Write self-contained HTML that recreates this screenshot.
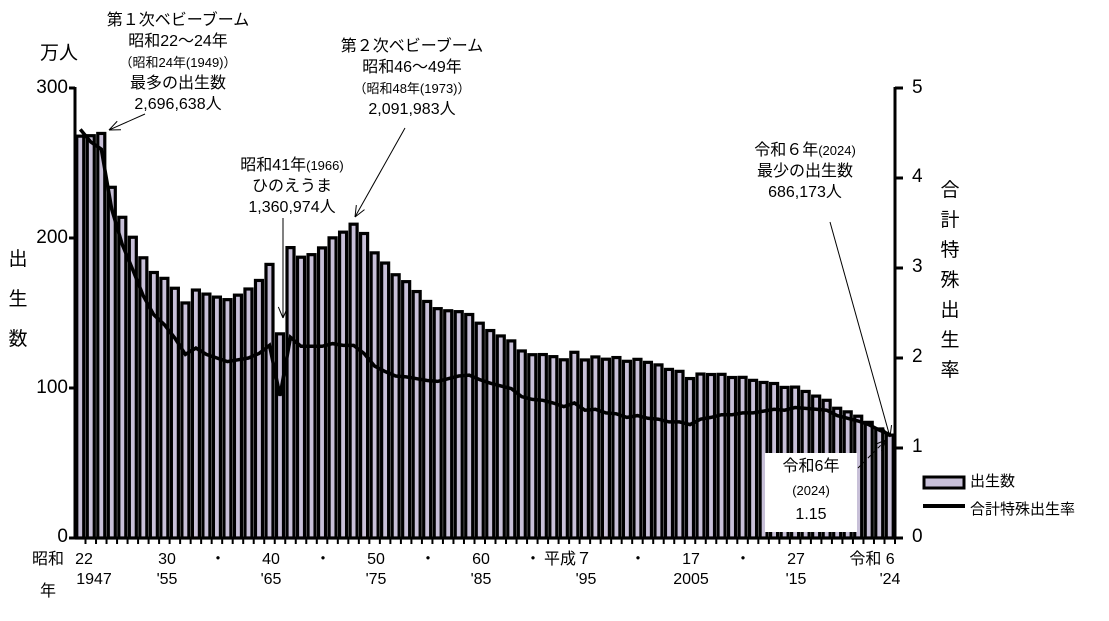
<!DOCTYPE html>
<html><head><meta charset="utf-8"><style>
body{margin:0;background:#fff;}
#c{position:relative;width:1109px;height:621px;overflow:hidden;font-family:"Liberation Sans","Noto Sans CJK JP",sans-serif;color:#000;}
.t{position:absolute;white-space:nowrap;text-align:center;}
</style></head><body><div id="c">
<svg id="s" width="1109" height="621" style="position:absolute;left:0;top:0"></svg>
<div class="t" style="left:40px;top:38px;font-size:19px">万人</div>
<div class="t" style="left:8px;top:240px;font-size:19px;line-height:40px;width:20px">出<br>生<br>数</div>
<div class="t" style="left:938px;top:176px;font-size:19px;line-height:30px;width:24px">合<br>計<br>特<br>殊<br>出<br>生<br>率</div>
<div class="t" style="left:20px;top:77px;font-size:19px;width:48px;text-align:right">300</div>
<div class="t" style="left:20px;top:227px;font-size:19px;width:48px;text-align:right">200</div>
<div class="t" style="left:20px;top:377px;font-size:19px;width:48px;text-align:right">100</div>
<div class="t" style="left:20px;top:526px;font-size:19px;width:48px;text-align:right">0</div>
<div class="t" style="left:912px;top:77px;font-size:19px">5</div>
<div class="t" style="left:912px;top:166px;font-size:19px">4</div>
<div class="t" style="left:912px;top:256px;font-size:19px">3</div>
<div class="t" style="left:912px;top:346px;font-size:19px">2</div>
<div class="t" style="left:912px;top:436px;font-size:19px">1</div>
<div class="t" style="left:912px;top:526px;font-size:19px">0</div>
<div class="t" style="left:88px;top:10px;font-size:16px;line-height:21px;width:180px">第１次ベビーブーム<br>昭和22～24年<br><span style="font-size:13px">（昭和24年(1949)）</span><br>最多の出生数<br>2,696,638人</div>
<div class="t" style="left:322px;top:36px;font-size:16px;line-height:21px;width:180px">第２次ベビーブーム<br>昭和46～49年<br><span style="font-size:13px">（昭和48年(1973)）</span><br>2,091,983人</div>
<div class="t" style="left:222px;top:155px;font-size:16px;line-height:21px;width:140px">昭和41年<span style="font-size:13px">(1966)</span><br>ひのえうま<br>1,360,974人</div>
<div class="t" style="left:735px;top:140px;font-size:16px;line-height:21px;width:140px">令和６年<span style="font-size:13px">(2024)</span><br>最少の出生数<br>686,173人</div>
<div class="t" style="left:765px;top:453px;width:92px;height:77px;background:#fff;font-size:16px;line-height:24px;padding-top:2px">令和6年<br><span style="font-size:13px">(2024)</span><br>1.15</div>
<div class="t" style="left:970px;top:470px;font-size:15px">出生数</div>
<div class="t" style="left:970px;top:498px;font-size:15px">合計特殊出生率</div>
</div>
<script>
var B=[267.9,268.2,269.7,233.8,213.8,200.5,186.8,177.0,173.1,166.5,156.7,165.3,162.6,160.6,158.9,161.9,166.0,171.7,182.4,136.1,193.6,187.2,188.9,193.4,200.1,203.9,209.2,203.0,190.1,183.3,175.5,170.9,164.3,157.7,152.9,151.5,150.9,149.0,143.2,138.3,134.7,131.4,124.7,122.2,122.3,120.9,118.8,123.8,118.7,120.7,119.2,120.3,117.8,119.1,117.1,115.4,112.4,111.1,106.3,109.3,109.0,109.1,107.0,107.1,105.1,103.7,103.0,100.4,100.6,97.7,94.6,91.8,86.5,84.1,81.2,77.1,72.7,68.6];
var T=[4.54,4.40,4.32,3.65,3.26,2.98,2.69,2.48,2.37,2.22,2.04,2.11,2.04,2.00,1.96,1.98,2.00,2.05,2.14,1.58,2.23,2.13,2.13,2.13,2.16,2.14,2.14,2.05,1.91,1.85,1.80,1.79,1.77,1.75,1.74,1.77,1.80,1.81,1.76,1.72,1.69,1.66,1.57,1.54,1.53,1.50,1.46,1.50,1.42,1.43,1.39,1.38,1.34,1.36,1.33,1.32,1.29,1.29,1.26,1.32,1.34,1.37,1.37,1.39,1.39,1.41,1.43,1.42,1.45,1.44,1.43,1.42,1.36,1.33,1.30,1.26,1.20,1.15];
var x0=75,x1=895,n=78,w=(x1-x0)/n,yb=538;
function cx(i){return x0+w*(i+0.5);}
var s='';
for(var i=0;i<n;i++){var h=B[i]*1.5;s+='<rect x="'+(cx(i)-3.5)+'" y="'+(yb-h)+'" width="7" height="'+h+'" fill="#c8c0d8" stroke="#000" stroke-width="3.2"/>';
s+='<line x1="'+(x0+w*(i+1))+'" y1="'+yb+'" x2="'+(x0+w*(i+1))+'" y2="'+(yb+6)+'" stroke="#000" stroke-width="2"/>';}
var p='';for(var i=0;i<n;i++){p+=(i?'L':'M')+cx(i).toFixed(1)+' '+(yb-T[i]*90).toFixed(1);}
s+='<path d="'+p+'" fill="none" stroke="#000" stroke-width="3.5"/>';
s+='<line x1="75" y1="87" x2="75" y2="539" stroke="#000" stroke-width="3"/>';
s+='<line x1="895" y1="87" x2="895" y2="539" stroke="#000" stroke-width="3"/>';
s+='<line x1="73" y1="538" x2="897" y2="538" stroke="#000" stroke-width="3"/>';
[88,238,388,538].forEach(function(y){s+='<line x1="69" y1="'+y+'" x2="75" y2="'+y+'" stroke="#000" stroke-width="3"/>';});
for(var k=0;k<=5;k++){var y=538-90*k;s+='<line x1="895" y1="'+y+'" x2="903" y2="'+y+'" stroke="#000" stroke-width="3"/>';}
function ar(a,b,c,d,dash){s+='<line x1="'+a+'" y1="'+b+'" x2="'+c+'" y2="'+d+'" stroke="#000" stroke-width="1" '+(dash?'stroke-dasharray="4,3"':'')+'/>';
var an=Math.atan2(d-b,c-a),L=12;[0.4,-0.4].forEach(function(o){s+='<line x1="'+c+'" y1="'+d+'" x2="'+(c-L*Math.cos(an+o))+'" y2="'+(d-L*Math.sin(an+o))+'" stroke="#000" stroke-width="1"/>';});}
ar(145,114,109,130);ar(405,128,355,217);ar(283,218,283,318);ar(830,222,890,437);ar(858,468,886,440,true);
s+='<rect x="924" y="477" width="40" height="11" fill="#c8c0d8" stroke="#000" stroke-width="3"/>';
s+='<line x1="923" y1="506" x2="965" y2="506" stroke="#000" stroke-width="4"/>';
var r1=[['昭和',48],['22',84],['30',167],['・',218],['40',271],['・',323],['50',376],['・',428],['60',481],['・',533],['平成７',568],['・',638],['17',691],['・',743],['27',796],['令和 6',872]];
var r2=[['1947',94],["'55",167],["'65",271],["'75",376],["'85",481],["'95",586],['2005',691],["'15",796],["'24",890]];
var F='font-family="Liberation Sans,Noto Sans CJK JP,sans-serif"';
r1.forEach(function(a){s+='<text x="'+a[1]+'" y="564" font-size="16" text-anchor="middle" '+F+'>'+a[0]+'</text>';});
r2.forEach(function(a){s+='<text x="'+a[1]+'" y="584" font-size="16" text-anchor="middle" '+F+'>'+a[0]+'</text>';});
s+='<text x="48" y="596" font-size="16" text-anchor="middle" '+F+'>年</text>';
document.getElementById('s').innerHTML=s;
</script>
</body></html>
